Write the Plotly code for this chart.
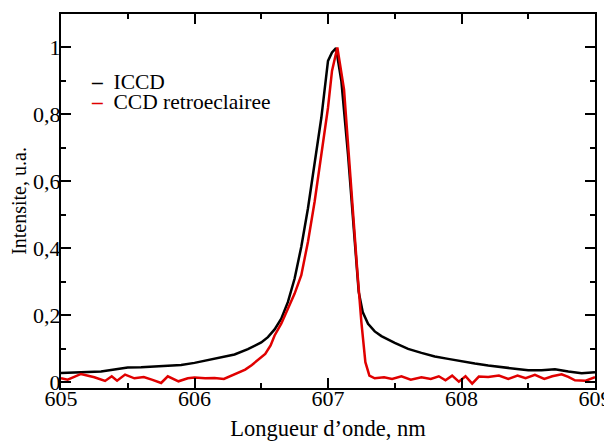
import plotly.graph_objects as go

# ICCD spectrum (black)
iccd_x = [605.00, 605.10, 605.20, 605.30, 605.40, 605.50, 605.60, 605.70, 605.80, 605.90,
          606.00, 606.10, 606.20, 606.30, 606.40, 606.50, 606.55, 606.60, 606.65, 606.70,
          606.75, 606.80, 606.85, 606.90, 606.95, 607.00, 607.03, 607.06, 607.10, 607.15,
          607.20, 607.23, 607.26, 607.30, 607.35, 607.40, 607.50, 607.60, 607.70, 607.80,
          607.90, 608.00, 608.10, 608.20, 608.30, 608.40, 608.50, 608.60, 608.70, 608.80,
          608.90, 609.00]
iccd_y = [0.028, 0.030, 0.031, 0.032, 0.038, 0.044, 0.045, 0.047, 0.049, 0.052,
          0.058, 0.066, 0.074, 0.083, 0.099, 0.119, 0.135, 0.158, 0.190, 0.240,
          0.310, 0.405, 0.520, 0.650, 0.790, 0.960, 0.985, 0.998, 0.900, 0.680,
          0.420, 0.270, 0.210, 0.175, 0.152, 0.138, 0.118, 0.100, 0.088, 0.077,
          0.070, 0.062, 0.056, 0.050, 0.045, 0.040, 0.036, 0.036, 0.039, 0.032,
          0.027, 0.030]

# back-illuminated CCD spectrum (red)
ccd_x = [605.00, 605.05, 605.15, 605.25, 605.33, 605.38, 605.42, 605.48, 605.55, 605.62,
         605.68, 605.75, 605.80, 605.88, 605.95, 606.00, 606.08, 606.15, 606.22, 606.28,
         606.33, 606.38, 606.43, 606.47, 606.50, 606.53, 606.57, 606.60, 606.65, 606.70,
         606.75, 606.80, 606.85, 606.90, 606.95, 607.00, 607.03, 607.07, 607.12, 607.17,
         607.22, 607.25, 607.28, 607.31, 607.35, 607.42, 607.48, 607.55, 607.62, 607.70,
         607.77, 607.83, 607.88, 607.93, 607.98, 608.03, 608.08, 608.13, 608.20, 608.28,
         608.35, 608.42, 608.48, 608.55, 608.62, 608.68, 608.75, 608.80, 608.85, 608.93,
         609.00]
ccd_y = [0.012, 0.008, 0.025, 0.015, 0.004, 0.018, 0.005, 0.023, 0.012, 0.016,
         0.008, -0.002, 0.018, 0.003, 0.012, 0.014, 0.012, 0.013, 0.010, 0.020,
         0.030, 0.038, 0.052, 0.066, 0.074, 0.085, 0.110, 0.140, 0.175, 0.220,
         0.265, 0.320, 0.420, 0.540, 0.680, 0.820, 0.930, 1.000, 0.875, 0.590,
         0.330, 0.180, 0.060, 0.020, 0.012, 0.015, 0.010, 0.018, 0.008, 0.015,
         0.010, 0.018, 0.006, 0.020, 0.002, 0.018, -0.004, 0.017, 0.016, 0.020,
         0.010, 0.020, 0.012, 0.022, 0.010, 0.018, 0.024, 0.016, 0.006, 0.005,
         0.015]

series_names = ['ICCD', 'CCD retroeclairee']
series_colors = ['black', '#e00000']

y_ticks = [0, 0.2, 0.4, 0.6, 0.8, 1]
y_ticklabels = ["0", "0,2", "0,4", "0,6", "0,8", "1"]

font = "Liberation Serif"

fig = go.Figure()
fig.add_trace(go.Scatter(x=iccd_x, y=iccd_y, mode='lines', name=series_names[0],
                         line=dict(color=series_colors[0], width=2.5)))
fig.add_trace(go.Scatter(x=ccd_x, y=ccd_y, mode='lines', name=series_names[1],
                         line=dict(color=series_colors[1], width=2.5)))

axis_style = dict(showline=True, linecolor='black', linewidth=2, mirror='allticks',
                  ticks='inside', ticklen=10, tickwidth=2, tickcolor='black',
                  showgrid=False, zeroline=False, automargin=False,
                  tickfont=dict(family=font, size=22, color='black'))

fig.update_xaxes(range=[605, 609], dtick=1, tick0=605, ticklabelstandoff=-10,
                 minor=dict(dtick=0.5, ticks='inside', ticklen=5, tickwidth=2, tickcolor='black'),
                 title=dict(text='Longueur d’onde, nm', font=dict(family=font, size=22.5, color='black'),
                            standoff=16),
                 **axis_style)
fig.update_yaxes(range=[-0.017, 1.1], tickvals=y_ticks, ticktext=y_ticklabels,
                 ticklabelstandoff=-6,
                 minor=dict(dtick=0.1, tick0=0, ticks='inside', ticklen=5, tickwidth=2, tickcolor='black'),
                 title=dict(text='Intensite, u.a.', font=dict(family=font, size=20, color='black'),
                            standoff=5),
                 **axis_style)

# legend drawn as text entries: short coloured dash followed by the series name
for i, (name, color) in enumerate(zip(series_names, series_colors)):
    fig.add_annotation(xref='paper', yref='paper', x=0.052, y=0.819 - i * 0.0535,
                       xanchor='left', yanchor='middle', showarrow=False,
                       text=f"<span style='color:{color}'><b>–</b></span>\u2002{name}",
                       font=dict(family=font, size=21.5, color='black'))

# the page body adds an 8 px margin, so the figure is 8 px smaller than the window
fig.update_layout(width=604, height=433, autosize=False,
                  margin=dict(l=53, r=17, t=6, b=53),
                  plot_bgcolor='white', paper_bgcolor='white',
                  showlegend=False)

fig.write_html("out.html")
